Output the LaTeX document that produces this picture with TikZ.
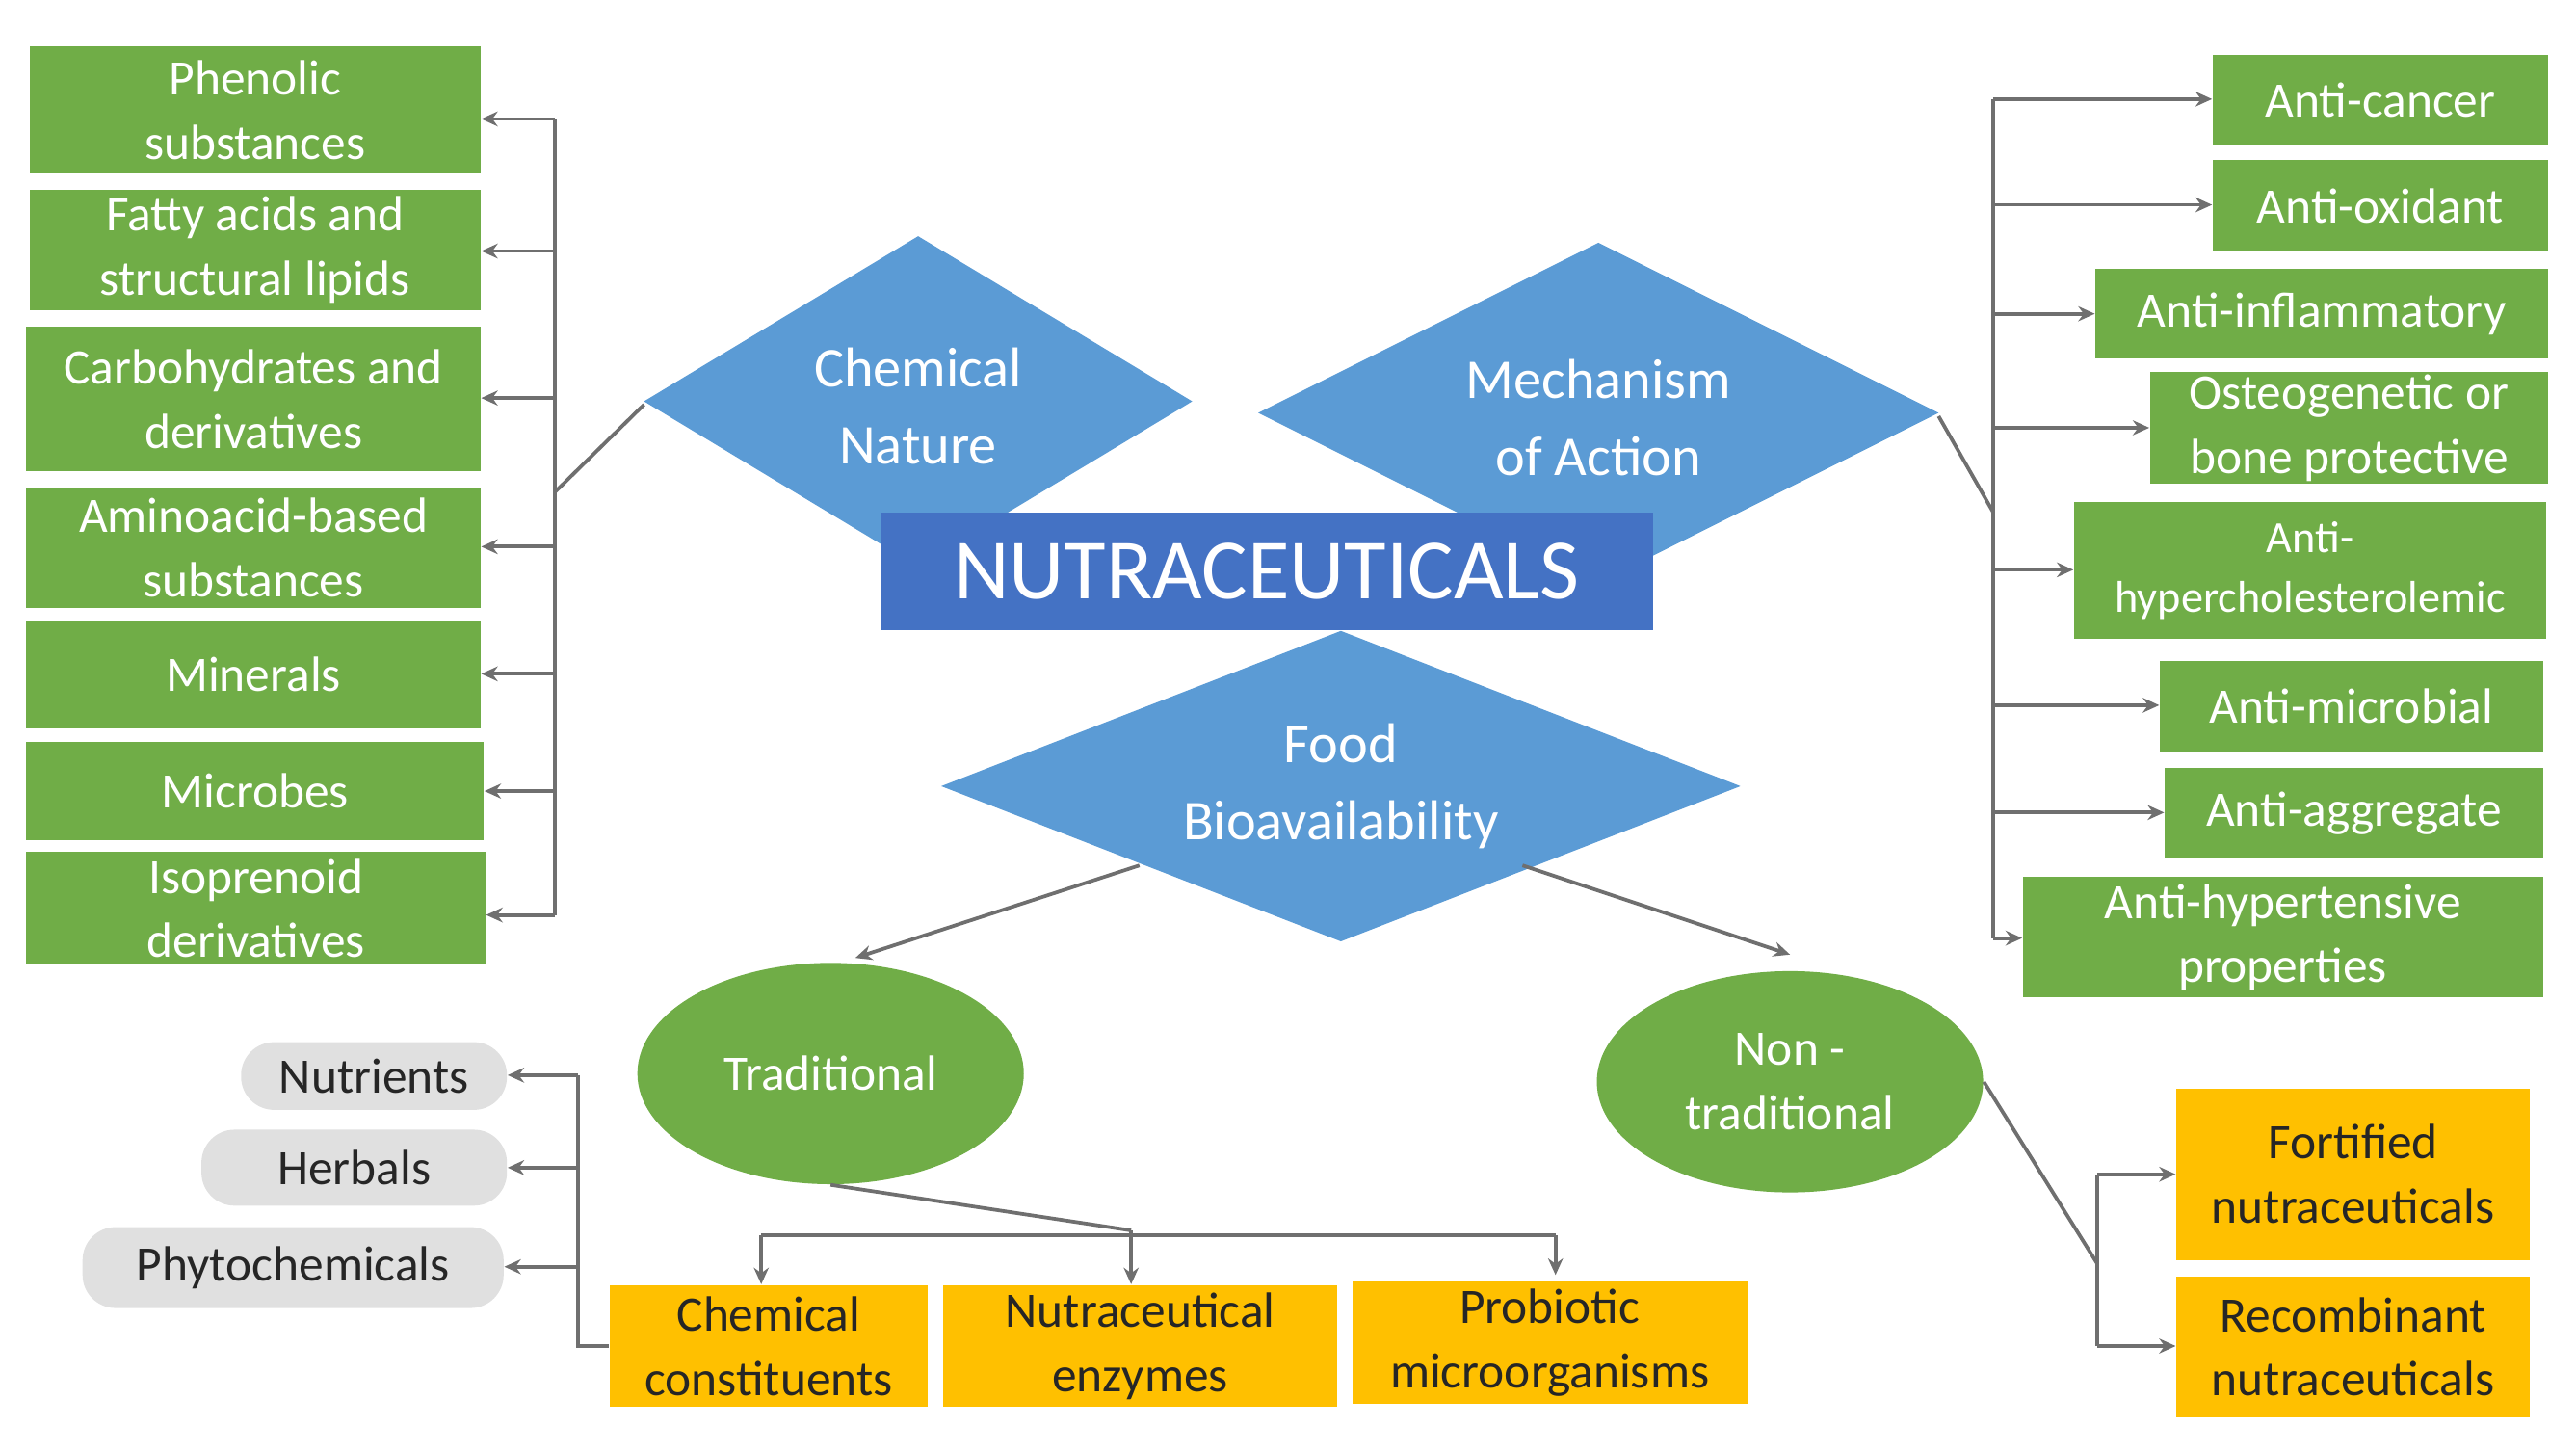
\documentclass[tikz,border=0pt]{standalone}
\usepackage{fontspec}
\setmainfont{Carlito}
\usetikzlibrary{arrows.meta,shapes.geometric}
\definecolor{gr}{HTML}{70AD47}
\definecolor{bl}{HTML}{5B9BD5}
\definecolor{db}{HTML}{4472C4}
\definecolor{og}{HTML}{FFC000}
\definecolor{lg}{HTML}{E0E0E0}
\definecolor{ln}{HTML}{6F6F6F}
\newcommand{\bx}[7]{\node[#6, minimum width={(#4-#2)*0.5pt}, minimum height={(#5-#3)*0.5pt}] (#1) at ({(#2+#4)/2},{(#3+#5)/2}) {#7};}
\begin{document}
\begin{tikzpicture}[x=0.5pt,y=-0.5pt,
  base/.style={inner sep=0pt, align=center, font=\fontsize{15}{19.5}\selectfont},
  gbox/.style={base, fill=gr, text=white},
  obox/.style={base, fill=og, text=black!85},
  pill/.style={base, fill=lg, rounded corners=10pt, text=black!85},
  ell/.style={base, fill=gr, text=white, ellipse},
  dtext/.style={base, text=white, font=\fontsize{17}{23.5}\selectfont},
  arr/.style={draw=ln, line width=1.1pt, -{Stealth[length=5pt,width=4.5pt]}},
  ln/.style={draw=ln, line width=1.1pt}]
\useasboundingbox (0,0) rectangle (1560,879);
% diamonds
\fill[bl] (390,243) -- (556,143) -- (722,243) -- (556,343) -- cycle;
\fill[bl] (762,250) -- (968,147) -- (1174,250) -- (968,353) -- cycle;
\fill[bl] (570,476) -- (812,382) -- (1054,476) -- (812,570) -- cycle;
\coordinate (cnL) at (390,245);
\coordinate (moR) at (1174,252);
\coordinate (fbL) at (690,524);
\coordinate (fbR) at (922,524);
\node[dtext] (cn) at (556,246) {Chemical\\Nature};
\node[dtext] (mo) at (968,253) {Mechanism\\of Action};
\node[dtext] (fb) at (812,476) {Food\\Bioavailability};
\node[base, fill=db, text=white, minimum width={468*0.5pt}, minimum height={71*0.5pt}, font=\fontsize{26}{30}\selectfont] (nut) at (767,346) {NUTRACEUTICALS};
% left column
\bx{l1}{18}{28}{291}{105}{gbox}{Phenolic\\substances}
\bx{l2}{18}{115}{291}{188}{gbox}{Fatty acids and\\structural lipids}
\bx{l3}{16}{198}{291}{285}{gbox}{Carbohydrates and\\derivatives}
\bx{l4}{16}{295}{291}{368}{gbox}{Aminoacid-based\\substances}
\bx{l5}{16}{376}{291}{441}{gbox}{Minerals}
\bx{l6}{16}{449}{293}{509}{gbox}{Microbes}
\bx{l7}{16}{516}{294}{584}{gbox}{Isoprenoid\\derivatives}
\coordinate (lb1) at (336,72);
\coordinate (lb2) at (336,554);
\coordinate (lbm) at (336,298);
\draw[ln] (lb1) -- (lb2);
\draw[ln] (lbm) -- (cnL);
\foreach \n/\y in {l1/72,l2/152,l3/241,l4/331,l5/408,l6/479,l7/554}
  \draw[arr] (336,\y) -- (\n.east |- 0,\y);
% right column
\bx{r1}{1340}{33}{1543}{88}{gbox}{Anti-cancer}
\bx{r2}{1340}{97}{1543}{152}{gbox}{Anti-oxidant}
\bx{r3}{1269}{163}{1543}{217}{gbox}{Anti-inflammatory}
\bx{r4}{1302}{225}{1543}{293}{gbox}{Osteogenetic or\\bone protective}
\bx{r5}{1256}{304}{1542}{387}{gbox, font=\fontsize{13.5}{18}\selectfont}{Anti-\\hypercholesterolemic}
\bx{r6}{1308}{400}{1540}{455}{gbox}{Anti-microbial}
\bx{r7}{1311}{465}{1540}{520}{gbox}{Anti-aggregate}
\bx{r8}{1225}{531}{1540}{604}{gbox}{Anti-hypertensive\\properties}
\coordinate (rb1) at (1207,60);
\coordinate (rb2) at (1207,568);
\coordinate (rbm) at (1207,310);
\draw[ln] (rb1) -- (rb2);
\draw[ln] (moR) -- (rbm);
\foreach \n/\y in {r1/60,r2/124,r3/190,r4/259,r5/345,r6/427,r7/492,r8/568}
  \draw[arr] (1207,\y) -- (\n.west |- 0,\y);
% ellipses
\node[ell, minimum width={234*0.5pt}, minimum height={134*0.5pt}] (tr) at (503,650) {Traditional};
\node[ell, minimum width={234*0.5pt}, minimum height={134*0.5pt}] (nt) at (1084,655) {Non -\\traditional};
\draw[arr] (fbL) -- (518,580);
\draw[arr] (fbR) -- (1084,578);
% pills
\bx{p1}{146}{631}{307}{672}{pill}{Nutrients}
\bx{p2}{122}{684}{307}{730}{pill}{Herbals}
\bx{p3}{50}{743}{305}{792}{pill}{Phytochemicals}
% orange
\bx{o1}{369}{778}{562}{852}{obox}{Chemical\\constituents}
\bx{o2}{571}{778}{810}{852}{obox}{Nutraceutical\\enzymes}
\bx{o3}{819}{776}{1058}{850}{obox}{Probiotic\\microorganisms}
\bx{o4}{1318}{659}{1532}{763}{obox}{Fortified\\nutraceuticals}
\bx{o5}{1318}{773}{1532}{858}{obox}{Recombinant\\nutraceuticals}
% pill bus
\draw[ln] (o1.west |- 0,815) -- (350,815) -- (350,651);
\foreach \n/\y in {p1/651,p2/707,p3/767}
  \draw[arr] (350,\y) -- (\n.east |- 0,\y);
% traditional to orange
\coordinate (tj) at (685,745);
\draw[ln] (tr.south) -- (tj);
\draw[ln] (461,748) -- (942,748);
\draw[arr] (461,748) -- (o1.north -| 461,0);
\draw[arr] (685,745) -- (o2.north -| 685,0);
\draw[arr] (942,748) -- (942,772);
% non-traditional
\coordinate (nj) at (1270,765);
\draw[ln] (nt.east) -- (nj);
\draw[ln] (1270,711) -- (1270,815);
\draw[arr] (1270,711) -- (o4.west |- 0,711);
\draw[arr] (1270,815) -- (o5.west |- 0,815);
\end{tikzpicture}
\end{document}
